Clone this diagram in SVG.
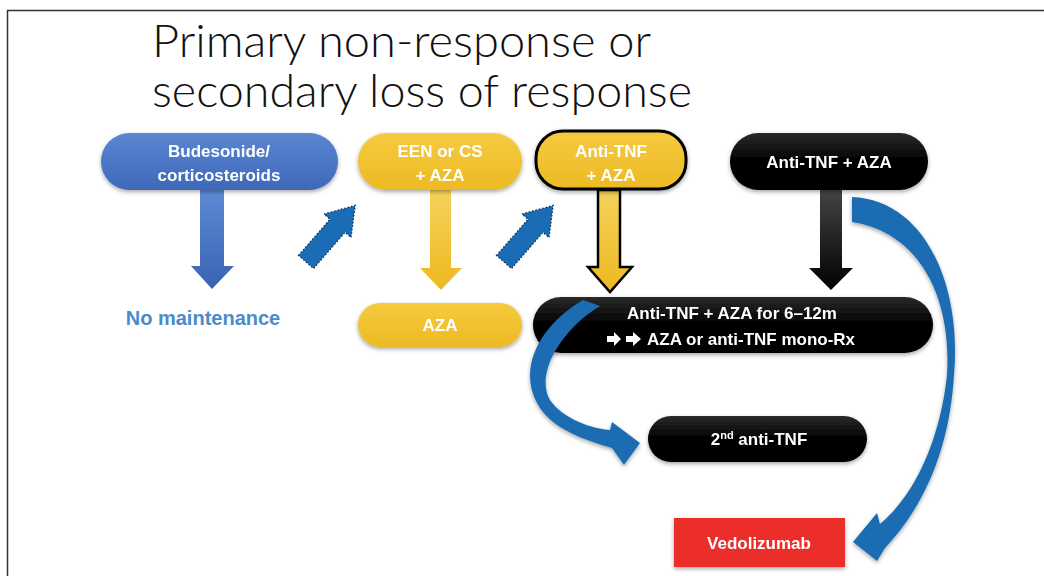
<svg xmlns="http://www.w3.org/2000/svg" width="1044" height="576" viewBox="0 0 1044 576">
<defs>
  <linearGradient id="gBlue" x1="0" y1="0" x2="0" y2="1"><stop offset="0" stop-color="#5a86d2"/><stop offset="1" stop-color="#3e68b8"/></linearGradient>
  <linearGradient id="gYel" x1="0" y1="0" x2="0" y2="1"><stop offset="0" stop-color="#f6ca40"/><stop offset="1" stop-color="#ecba24"/></linearGradient>
  <linearGradient id="gYelA" x1="0" y1="0" x2="0" y2="1"><stop offset="0" stop-color="#f5d25c"/><stop offset="1" stop-color="#eeb820"/></linearGradient>
  <linearGradient id="gBlk" x1="0" y1="0" x2="0" y2="1"><stop offset="0" stop-color="#2a2a2a"/><stop offset="0.5" stop-color="#000"/><stop offset="1" stop-color="#000"/></linearGradient>
  <linearGradient id="gBlkA" x1="0" y1="0" x2="0" y2="1"><stop offset="0" stop-color="#454545"/><stop offset="1" stop-color="#000"/></linearGradient>
  <linearGradient id="gBlueA" x1="0" y1="0" x2="0" y2="1"><stop offset="0" stop-color="#5e8ad4"/><stop offset="1" stop-color="#3963b3"/></linearGradient>
  <filter id="sh" x="-10%" y="-20%" width="120%" height="150%"><feDropShadow dx="0" dy="2" stdDeviation="2" flood-color="#000" flood-opacity="0.35"/></filter>
</defs>
<style>
  .t{font-family:"Liberation Sans",Arial,sans-serif;font-weight:bold;font-size:17px;fill:#fff;text-anchor:middle}
  .tl{font-family:"Liberation Sans",Arial,sans-serif;font-weight:bold;font-size:17px;fill:#fff}
  .title{font-family:Lato,"Liberation Sans",Arial,sans-serif;font-weight:300;font-size:46px;fill:#111}
  .curve{fill:#1c6cb3}
  .dot{fill:#1a6db4;stroke:#0b2a4a;stroke-width:1.2;stroke-dasharray:1.5 2}
</style>
<rect width="1044" height="576" fill="#fff"/>
<path d="M7.5,576 V10.5 H1044" fill="none" stroke="#333" stroke-width="1.5"/>
<g id="title">
  <text class="title" x="152" y="57" textLength="499" lengthAdjust="spacingAndGlyphs">Primary non-response or</text>
  <text class="title" x="152" y="107" textLength="540" lengthAdjust="spacingAndGlyphs">secondary loss of response</text>
</g>
<g id="connectors">
  <polygon points="200,189 224,189 224,266 234,266 212,289 191,266 200,266" fill="url(#gBlueA)"/>
  <polygon points="430,189 451,189 451,268 462,268 441,290 420,268 430,268" fill="url(#gYelA)"/>
  <polygon points="598,190 620,190 620,267 632,267 610,292 588,267 598,267" fill="url(#gYelA)" stroke="#000" stroke-width="2.5" stroke-linejoin="miter"/>
  <polygon points="820,189 842,189 842,268 853,268 831,290 809,268 820,268" fill="url(#gBlkA)"/>
  <polygon class="dot" transform="translate(306,262) rotate(-49)" points="0,-10 48,-10 48,-18 75,0 48,18 48,10 0,10"/>
  <polygon class="dot" transform="translate(504,262) rotate(-49)" points="0,-10 48,-10 48,-18 75,0 48,18 48,10 0,10"/>
</g>
<g id="n-budesonide" filter="url(#sh)">
  <rect x="101" y="133" width="237" height="57" rx="28.5" fill="url(#gBlue)"/>
  <text class="t" x="219" y="157">Budesonide/</text>
  <text class="t" x="219" y="181">corticosteroids</text>
</g>
<g id="n-nomaint">
  <text x="203" y="325" font-family="'Liberation Sans',Arial,sans-serif" font-weight="bold" font-size="20" fill="#4a8bcb" text-anchor="middle">No maintenance</text>
</g>
<g id="n-een" filter="url(#sh)">
  <rect x="358" y="133" width="164" height="57" rx="28.5" fill="url(#gYel)"/>
  <text class="t" x="440" y="157">EEN or CS</text>
  <text class="t" x="440" y="181">+ AZA</text>
</g>
<g id="n-aza" filter="url(#sh)">
  <rect x="358" y="303" width="164" height="44" rx="22" fill="url(#gYel)"/>
  <text class="t" x="440" y="331">AZA</text>
</g>
<g id="n-antitnf-aza-y" filter="url(#sh)">
  <rect x="536" y="131" width="150" height="58" rx="27" fill="url(#gYel)" stroke="#000" stroke-width="3"/>
  <text class="t" x="611" y="157">Anti-TNF</text>
  <text class="t" x="611" y="181">+ AZA</text>
</g>
<g id="n-antitnf-aza-b" filter="url(#sh)">
  <rect x="730" y="133" width="198" height="57" rx="28.5" fill="url(#gBlk)"/>
  <text class="t" x="829" y="168">Anti-TNF + AZA</text>
</g>
<g id="n-combo" filter="url(#sh)">
  <rect x="533" y="297" width="400" height="56" rx="28" fill="url(#gBlk)"/>
  <text class="t" x="732" y="319">Anti-TNF + AZA for 6–12m</text>
  <polygon points="607,336 614,336 614,332 621,339 614,346 614,342 607,342" fill="#fff"/>
  <polygon points="626,336 633,336 633,332 641,339 633,346 633,342 626,342" fill="#fff"/>
  <text class="tl" x="647" y="345">AZA or anti-TNF mono-Rx</text>
</g>
<g id="n-second" filter="url(#sh)">
  <rect x="648" y="416" width="219" height="46" rx="23" fill="url(#gBlk)"/>
  <text class="t" x="759" y="445">2<tspan font-size="11" dy="-6">nd</tspan><tspan dy="6"> anti-TNF</tspan></text>
</g>
<g id="n-vedo" filter="url(#sh)">
  <rect x="674" y="518" width="171" height="49" fill="#ec2f2b"/>
  <text class="t" x="759" y="549">Vedolizumab</text>
</g>
<g id="connectors-curved" filter="url(#sh)">
  <path class="curve" d="M583,300 C540,325 515,370 540,408 C555,430 585,440 612,448 L624,465 L640,443 L612,422 L610,430 C585,428 560,415 550,400 C535,375 560,330 600,306 Z"/>
  <path class="curve" d="M852,197 C925,200 962,285 954,375 C950,440 930,500 885,548 L877,561 L853,542 L877,513 L880,524 C915,495 940,440 947,375 C952,295 918,232 852,222 Z"/>
</g>
</svg>
